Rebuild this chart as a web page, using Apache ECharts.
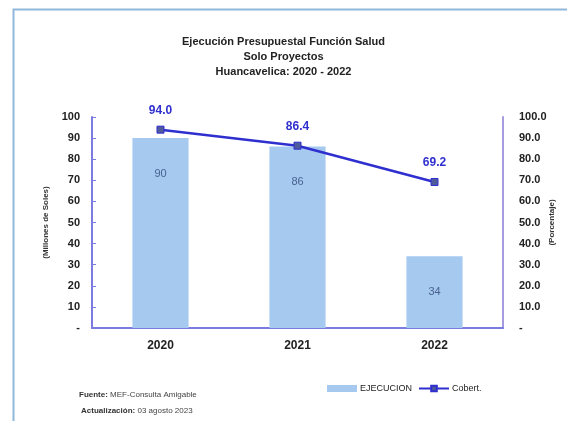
<!DOCTYPE html>
<html>
<head>
<meta charset="utf-8">
<script src="https://cdn.jsdelivr.net/npm/echarts@6/dist/echarts.min.js"></script>
<style>html,body{margin:0;padding:0;background:#fff}#c{width:567px;height:421px}</style>
</head>
<body>
<div id="c"></div>
<script>
var categories = ['2020', '2021', '2022'];
var ejecucion = [90, 86, 34];
var cobertura = [94.0, 86.4, 69.2];
var leftTicks = ['-', '10', '20', '30', '40', '50', '60', '70', '80', '90', '100'];
var rightTicks = ['-', '10.0', '20.0', '30.0', '40.0', '50.0', '60.0', '70.0', '80.0', '90.0', '100.0'];

var FONT = '"Liberation Sans Narrow","Liberation Sans",Arial,sans-serif';
var chart = echarts.init(document.getElementById('c'));
chart.setOption({
  backgroundColor: '#ffffff',
  animation: false,
  textStyle: { fontFamily: FONT },
  title: {
    text: 'Ejecución Presupuestal Función Salud\nSolo Proyectos\nHuancavelica: 2020 - 2022',
    left: 'center', top: 29,
    textStyle: { fontFamily: FONT, fontSize: 11, fontWeight: 'bold', color: '#222', lineHeight: 15 }
  },
  graphic: [
    { type: 'rect', shape: { x: 13.5, y: 9.5, width: 600, height: 500 }, style: { fill: 'none', stroke: '#8fb8dc', lineWidth: 2 } },
    { type: 'text', left: 79, top: 391, style: { text: '{b|Fuente:} MEF-Consulta Amigable', rich: { b: { fontWeight: 'bold', fontSize: 8, fontFamily: FONT, fill: '#333' } }, fontSize: 8, fontFamily: FONT, fill: '#444' } },
    { type: 'text', left: 81, top: 407, style: { text: '{b|Actualización:} 03 agosto 2023', rich: { b: { fontWeight: 'bold', fontSize: 8, fontFamily: FONT, fill: '#333' } }, fontSize: 8, fontFamily: FONT, fill: '#444' } }
  ],
  legend: {
    left: 322, top: 379,
    itemGap: 6,
    textStyle: { fontFamily: FONT, fontSize: 9, color: '#222', padding: [0, 0, 0, -2] },
    data: [
      { name: 'EJECUCION', icon: 'rect', itemStyle: { color: '#a6caef' } },
      { name: 'Cobert.' }
    ],
    itemWidth: 30, itemHeight: 7
  },
  grid: { left: 92, right: 64, top: 117, bottom: 93, outerBoundsMode: 'none', containLabel: false },
  xAxis: {
    type: 'category', data: categories,
    axisLine: { lineStyle: { color: '#7b7be0', width: 2 } },
    axisTick: { inside: true, length: 4, lineStyle: { color: '#7b7be0' } },
    axisLabel: { fontFamily: FONT, fontSize: 12, fontWeight: 'bold', color: '#222', margin: 12 }
  },
  yAxis: [
    {
      type: 'value', min: 0, max: 100, interval: 10,
      name: '(Millones de Soles)', nameLocation: 'middle', nameGap: 42, nameRotate: 90, nameMoveOverlap: false,
      nameTextStyle: { fontFamily: FONT, fontSize: 8, fontWeight: 'bold', color: '#333' },
      axisLine: { show: true, lineStyle: { color: '#7b7be0', width: 2 } },
      axisTick: { show: true, inside: true, length: 4, lineStyle: { color: '#7b7be0' } },
      splitLine: { show: false },
      axisLabel: { fontFamily: FONT, fontSize: 11, fontWeight: 'bold', color: '#222', margin: 12,
        formatter: function (v) { return leftTicks[Math.round(v / 10)]; } }
    },
    {
      type: 'value', min: 0, max: 100, interval: 10, position: 'right',
      name: '(Porcentaje)', nameLocation: 'middle', nameGap: 45, nameRotate: 90, nameMoveOverlap: false,
      nameTextStyle: { fontFamily: FONT, fontSize: 8, fontWeight: 'bold', color: '#333' },
      axisLine: { show: true, lineStyle: { color: '#a59ce0', width: 2 } },
      axisTick: { show: false },
      splitLine: { show: false },
      axisLabel: { fontFamily: FONT, fontSize: 11, fontWeight: 'bold', color: '#222', margin: 16,
        formatter: function (v) { return rightTicks[Math.round(v / 10)]; } }
    }
  ],
  series: [
    {
      name: 'EJECUCION', type: 'bar', data: ejecucion, barWidth: '41%', yAxisIndex: 0,
      itemStyle: { color: '#a6caef' },
      label: { show: true, position: 'insideTop', distance: 30, fontFamily: FONT, fontSize: 11, color: '#4a6190' }
    },
    {
      name: 'Cobert.', type: 'line', data: cobertura, yAxisIndex: 1,
      lineStyle: { color: '#2f2fd0', width: 2.5 },
      itemStyle: { color: '#4f5a9a', borderColor: '#2f2fd0', borderWidth: 1 },
      symbol: 'rect', symbolSize: 7,
      label: { show: true, position: 'top', distance: 9, fontFamily: FONT, fontSize: 12, fontWeight: 'bold', color: '#3030d0',
        formatter: function (p) { return p.value.toFixed(1); } }
    }
  ]
});
</script>
</body>
</html>
